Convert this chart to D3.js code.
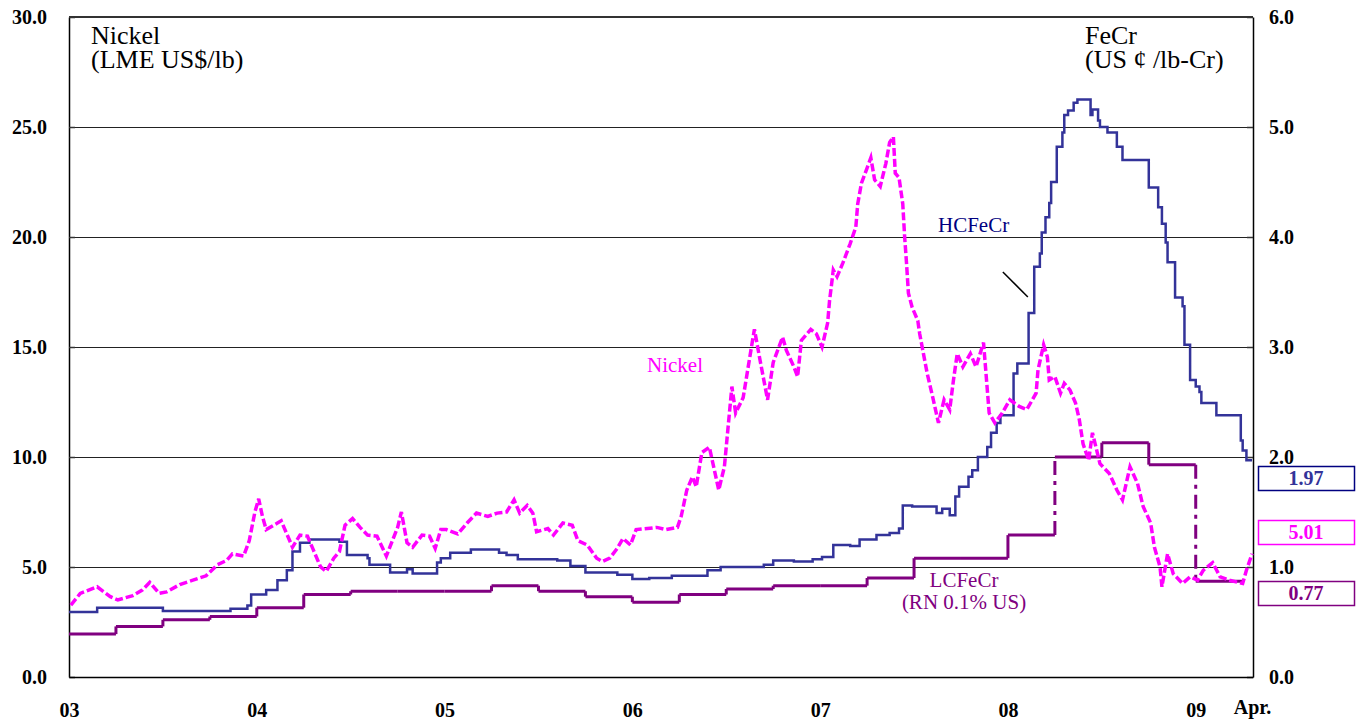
<!DOCTYPE html>
<html lang="en">
<head>
  <meta charset="UTF-8">
  <script src="https://d3js.org/d3.v7.min.js"></script>
  <title>Nickel and FeCr prices</title>
  <style>
    body {
      margin: 0;
      background-color: white;
      font-family: "Liberation Serif", "Times New Roman", serif;
    }
    .tick text {
      font-family: "Liberation Serif", "Times New Roman", serif;
      font-weight: bold;
      font-size: 20px;
      fill: black;
    }
  </style>
</head>
<body>
  <div id="chart"></div>

<script>
  // Nickel, LME US$/lb (left axis), [decimal year, value]
  const nickel = [
    [2003.01, 3.27], [2003.06, 3.8], [2003.15, 4.1], [2003.22, 3.65], [2003.26, 3.5], [2003.34, 3.7],
    [2003.39, 3.95], [2003.43, 4.3], [2003.48, 3.8], [2003.52, 3.87], [2003.59, 4.2], [2003.66, 4.4],
    [2003.73, 4.6], [2003.79, 5.1], [2003.84, 5.3], [2003.87, 5.6], [2003.93, 5.5], [2003.96, 6.2],
    [2003.99, 7.5], [2004.01, 8.1], [2004.03, 7.3], [2004.05, 6.7], [2004.11, 7.0], [2004.13, 7.1],
    [2004.16, 6.5], [2004.19, 5.9], [2004.23, 6.45], [2004.27, 6.4], [2004.30, 5.8], [2004.34, 5.0],
    [2004.37, 4.8], [2004.41, 5.4], [2004.44, 5.7], [2004.47, 6.9], [2004.51, 7.2], [2004.55, 6.8],
    [2004.59, 6.45], [2004.64, 6.4], [2004.69, 5.5], [2004.75, 6.8], [2004.77, 7.5], [2004.80, 6.1],
    [2004.83, 5.9], [2004.88, 6.45], [2004.92, 6.4], [2004.95, 5.85], [2004.98, 6.7], [2005.01, 6.7],
    [2005.07, 6.5], [2005.12, 7.0], [2005.17, 7.45], [2005.23, 7.3], [2005.28, 7.45], [2005.33, 7.5],
    [2005.37, 8.05], [2005.40, 7.45], [2005.44, 7.8], [2005.47, 7.45], [2005.49, 6.6], [2005.55, 6.75],
    [2005.58, 6.45], [2005.63, 7.0], [2005.68, 6.9], [2005.71, 6.2], [2005.76, 6.0], [2005.81, 5.4],
    [2005.84, 5.25], [2005.88, 5.4], [2005.92, 5.85], [2005.95, 6.3], [2005.99, 6.0], [2006.02, 6.7],
    [2006.08, 6.75], [2006.13, 6.8], [2006.18, 6.7], [2006.24, 6.8], [2006.26, 7.3], [2006.29, 8.5],
    [2006.32, 9.1], [2006.34, 8.65], [2006.37, 10.2], [2006.41, 10.45], [2006.46, 8.5], [2006.49, 9.55],
    [2006.53, 13.2], [2006.55, 12.0], [2006.59, 12.7], [2006.64, 15.3], [2006.65, 15.8], [2006.68, 14.4],
    [2006.72, 12.6], [2006.75, 14.3], [2006.80, 15.45], [2006.82, 14.85], [2006.86, 14.1], [2006.88, 13.65],
    [2006.90, 15.3], [2006.95, 15.8], [2006.98, 15.6], [2007.01, 15.0], [2007.04, 16.1], [2007.05, 17.1],
    [2007.07, 18.5], [2007.09, 18.2], [2007.12, 18.8], [2007.16, 19.7], [2007.19, 20.45], [2007.20, 21.5],
    [2007.22, 22.45], [2007.27, 23.6], [2007.29, 22.6], [2007.32, 22.3], [2007.35, 23.35], [2007.37, 24.3],
    [2007.39, 24.55], [2007.40, 22.9], [2007.42, 22.7], [2007.44, 21.5], [2007.45, 20.0], [2007.46, 18.8],
    [2007.47, 17.45], [2007.49, 16.8], [2007.52, 16.2], [2007.53, 15.6], [2007.55, 14.7], [2007.57, 13.8],
    [2007.60, 12.7], [2007.63, 11.55], [2007.66, 12.6], [2007.69, 12.15], [2007.71, 13.5], [2007.73, 14.7],
    [2007.76, 14.1], [2007.80, 14.7], [2007.83, 14.1], [2007.87, 15.2], [2007.90, 12.0], [2007.93, 11.55],
    [2007.97, 12.0], [2008.01, 12.6], [2008.06, 12.3], [2008.10, 12.15], [2008.15, 12.9], [2008.16, 13.95],
    [2008.19, 15.1], [2008.21, 14.55], [2008.22, 13.5], [2008.25, 13.65], [2008.28, 12.9], [2008.30, 13.35],
    [2008.33, 13.05], [2008.36, 12.45], [2008.38, 11.7], [2008.40, 10.6], [2008.43, 9.85], [2008.45, 11.1],
    [2008.49, 9.7], [2008.54, 9.25], [2008.58, 8.5], [2008.61, 8.05], [2008.65, 9.55], [2008.69, 8.8],
    [2008.72, 7.75], [2008.76, 7.0], [2008.78, 5.9], [2008.81, 5.0], [2008.82, 4.1], [2008.85, 5.6],
    [2008.88, 4.7], [2008.93, 4.25], [2008.97, 4.55], [2009.01, 4.4], [2009.04, 4.85], [2009.09, 5.2],
    [2009.13, 4.55], [2009.18, 4.4], [2009.25, 4.25], [2009.27, 4.85], [2009.30, 5.6]
  ];

  // HCFeCr, US cents/lb-Cr (right axis), step changes [decimal year, value]
  const hcfecr = [
    [2003.00, 0.59], [2003.15, 0.63], [2003.50, 0.60], [2003.86, 0.62], [2003.95, 0.65], [2003.97, 0.75],
    [2004.05, 0.79], [2004.11, 0.88], [2004.16, 0.97], [2004.19, 1.14], [2004.23, 1.22], [2004.28, 1.25],
    [2004.44, 1.23], [2004.48, 1.11], [2004.59, 1.08], [2004.60, 1.02], [2004.71, 0.95], [2004.80, 0.98],
    [2004.83, 0.94], [2004.96, 1.04], [2004.98, 1.08], [2005.03, 1.13], [2005.14, 1.16], [2005.29, 1.13],
    [2005.33, 1.11], [2005.39, 1.07], [2005.60, 1.06], [2005.67, 1.01], [2005.75, 0.95], [2005.92, 0.93],
    [2006.00, 0.89], [2006.09, 0.90], [2006.21, 0.92], [2006.40, 0.97], [2006.47, 1.00], [2006.70, 1.02],
    [2006.75, 1.06], [2006.86, 1.05], [2006.96, 1.07], [2007.01, 1.09], [2007.07, 1.20], [2007.16, 1.19],
    [2007.21, 1.25], [2007.30, 1.29], [2007.37, 1.31], [2007.42, 1.35], [2007.44, 1.56], [2007.49, 1.55],
    [2007.62, 1.49], [2007.65, 1.53], [2007.69, 1.47], [2007.72, 1.64], [2007.74, 1.73], [2007.79, 1.82],
    [2007.81, 1.88], [2007.84, 2.00], [2007.89, 2.09], [2007.91, 2.22], [2007.94, 2.31], [2007.96, 2.38],
    [2008.03, 2.76], [2008.05, 2.85], [2008.11, 3.31], [2008.14, 3.73], [2008.17, 3.85], [2008.18, 4.04],
    [2008.20, 4.18], [2008.22, 4.31], [2008.23, 4.50], [2008.26, 4.82], [2008.29, 4.95], [2008.30, 5.11],
    [2008.32, 5.15], [2008.35, 5.22], [2008.37, 5.25], [2008.44, 5.11], [2008.45, 5.16], [2008.48, 5.06],
    [2008.49, 5.00], [2008.53, 4.95], [2008.58, 4.82], [2008.61, 4.70], [2008.75, 4.45], [2008.80, 4.27],
    [2008.82, 4.12], [2008.84, 3.95], [2008.85, 3.77], [2008.89, 3.45], [2008.93, 3.37], [2008.94, 3.02],
    [2008.97, 2.70], [2009.00, 2.64], [2009.02, 2.59], [2009.03, 2.49], [2009.11, 2.38], [2009.24, 2.15],
    [2009.25, 2.06], [2009.27, 1.97], [2009.30, 1.97]
  ];

  // LCFeCr (RN 0.1% US), quarterly contract prices (right axis)
  const lcQuarters = [
    2003.00, 2003.25, 2003.50, 2003.75, 2004.00, 2004.25, 2004.50, 2004.75,
    2005.00, 2005.25, 2005.50, 2005.75, 2006.00, 2006.25, 2006.50, 2006.75,
    2007.00, 2007.25, 2007.50, 2007.75, 2008.00, 2008.25, 2008.50, 2008.75, 2009.00
  ];
  const lcfecr = [
    0.39, 0.46, 0.52, 0.55, 0.63, 0.75, 0.78, 0.78,
    0.78, 0.83, 0.78, 0.73, 0.68, 0.75, 0.80, 0.83,
    0.83, 0.90, 1.08, 1.08, 1.29, 2.00, 2.13, 1.93, 0.87
  ];
  const lcEnd = 2009.25;

  const leftTicks = [0, 5, 10, 15, 20, 25, 30];
  const rightTicks = [0, 1, 2, 3, 4, 5, 6];
  const xTicks = [2003, 2004, 2005, 2006, 2007, 2008, 2009, 2009.3];
  const xTickLabels = ["03", "04", "05", "06", "07", "08", "09", "Apr."];

  const latestLabels = ["1.97", "5.01", "0.77"];
  const latestColors = ["#000080", "#FF00FF", "#800080"];
  const latestText = ["#333399", "#FF00FF", "#800080"];

  var width = 1367, height = 725;
  var plotL = 69, plotR = 1253, plotT = 17, plotB = 677;

  var svg = d3.select("#chart")
    .append("svg")
    .attr("width", width)
    .attr("height", height);

  var x = d3.scaleLinear().domain([2003, 2009.305]).range([plotL, plotR]);
  var yL = d3.scaleLinear().domain([0, 30]).range([plotB, plotT]);
  var yR = d3.scaleLinear().domain([0, 6]).range([plotB, plotT]);

  // gridlines
  svg.append("g")
    .selectAll("line")
    .data(leftTicks.filter(d => d > 0 && d < 30))
    .enter()
    .append("line")
    .attr("x1", plotL).attr("x2", plotR)
    .attr("y1", d => Math.round(yL(d)) + 0.5)
    .attr("y2", d => Math.round(yL(d)) + 0.5)
    .attr("stroke", "#222")
    .attr("stroke-width", 1);

  // top border
  svg.append("line")
    .attr("x1", plotL).attr("x2", plotR)
    .attr("y1", yL(30)).attr("y2", yL(30))
    .attr("stroke", "#333")
    .attr("stroke-width", 2);

  // left axis
  var gL = svg.append("g")
    .attr("transform", "translate(" + plotL + ",0)")
    .call(d3.axisLeft(yL).tickValues(leftTicks).tickFormat(d3.format(".1f"))
      .tickSizeInner(-6).tickSizeOuter(0).tickPadding(22));
  gL.select(".domain").attr("stroke", "black").attr("stroke-width", 1.5);
  gL.selectAll(".tick line").attr("stroke", "#333").attr("stroke-width", 1.5);
  gL.selectAll(".tick text").attr("dy", "0.34em");

  // right axis
  var gR = svg.append("g")
    .attr("transform", "translate(" + plotR + ",0)")
    .call(d3.axisRight(yR).tickValues(rightTicks).tickFormat(d3.format(".1f"))
      .tickSizeInner(-6).tickSizeOuter(0).tickPadding(16));
  gR.select(".domain").attr("stroke", "black").attr("stroke-width", 1.5);
  gR.selectAll(".tick line").attr("stroke", "#333").attr("stroke-width", 1.5);
  gR.selectAll(".tick text").attr("dy", "0.34em");

  // bottom axis
  var gB = svg.append("g")
    .attr("transform", "translate(0," + plotB + ")")
    .call(d3.axisBottom(x).tickValues(xTicks)
      .tickFormat((d, i) => xTickLabels[i])
      .tickSize(0).tickPadding(26));
  gB.select(".domain").attr("stroke", "black").attr("stroke-width", 1.5);
  gB.selectAll(".tick text").filter((d, i) => i === xTicks.length - 1).attr("y", 23);

  // LCFeCr: horizontal pieces solid, big jumps dash-dot
  var lcG = svg.append("g")
    .attr("stroke", "#800080")
    .attr("stroke-width", 3)
    .attr("fill", "none");
  lcG.selectAll("line.h")
    .data(lcfecr)
    .enter()
    .append("line")
    .attr("class", "h")
    .attr("x1", (d, i) => x(lcQuarters[i]))
    .attr("x2", (d, i) => x(i + 1 < lcQuarters.length ? lcQuarters[i + 1] : lcEnd))
    .attr("y1", d => yR(d))
    .attr("y2", d => yR(d));
  lcG.selectAll("line.v")
    .data(lcfecr.slice(1))
    .enter()
    .append("line")
    .attr("class", "v")
    .attr("x1", (d, i) => x(lcQuarters[i + 1]))
    .attr("x2", (d, i) => x(lcQuarters[i + 1]))
    .attr("y1", (d, i) => yR(lcfecr[i]))
    .attr("y2", d => yR(d))
    .attr("stroke-dasharray", (d, i) => Math.abs(d - lcfecr[i]) > 0.5 ? "14,6,4,6" : null);

  // HCFeCr
  var stepLine = d3.line()
    .x(d => x(d[0]))
    .y(d => yR(d[1]))
    .curve(d3.curveStepAfter);
  svg.append("path")
    .datum(hcfecr)
    .attr("d", stepLine)
    .attr("fill", "none")
    .attr("stroke", "#333399")
    .attr("stroke-width", 2.5);

  // Nickel
  var nickelLine = d3.line()
    .x(d => x(d[0]))
    .y(d => yL(d[1]));
  svg.append("path")
    .datum(nickel)
    .attr("d", nickelLine)
    .attr("fill", "none")
    .attr("stroke", "#FF00FF")
    .attr("stroke-width", 3.5)
    .attr("stroke-dasharray", "8,3");

  // leader line to HCFeCr
  svg.append("line")
    .attr("x1", x(2007.973)).attr("y1", yL(18.41))
    .attr("x2", x(2008.106)).attr("y2", yL(17.27))
    .attr("stroke", "black")
    .attr("stroke-width", 1.5);

  // axis titles
  function multi(xp, yp, lines, size, color, anchor, gap) {
    var t = svg.append("text")
      .attr("x", xp).attr("y", yp)
      .attr("fill", color)
      .attr("font-size", size)
      .attr("text-anchor", anchor || "start");
    lines.forEach((l, i) => {
      t.append("tspan").attr("x", xp).attr("dy", i === 0 ? 0 : (gap || 22)).text(l);
    });
  }
  multi(91, 44, ["Nickel", "(LME US$/lb)"], 26, "black", "start", 24);
  multi(1085, 44, ["FeCr", "(US \u00A2 /lb-Cr)"], 26, "black", "start", 24);

  // series labels
  multi(938, 232, ["HCFeCr"], 21, "#000080");
  multi(647, 372, ["Nickel"], 21, "#FF00FF");
  multi(964, 587, ["LCFeCr", "(RN 0.1% US)"], 21, "#800080", "middle");

  // latest value boxes
  var boxY = [466, 520, 581];
  var boxes = svg.append("g");
  boxes.selectAll("rect")
    .data(latestLabels)
    .enter()
    .append("rect")
    .attr("x", 1258.5)
    .attr("y", (d, i) => boxY[i] + 0.5)
    .attr("width", 96)
    .attr("height", 24)
    .attr("fill", "white")
    .attr("stroke", (d, i) => latestColors[i])
    .attr("stroke-width", 1.5);
  boxes.selectAll("text")
    .data(latestLabels)
    .enter()
    .append("text")
    .attr("x", 1306)
    .attr("y", (d, i) => boxY[i] + 19)
    .attr("text-anchor", "middle")
    .attr("font-weight", "bold")
    .attr("font-size", 20)
    .attr("fill", (d, i) => latestText[i])
    .text(d => d);
</script>
</body>
</html>
